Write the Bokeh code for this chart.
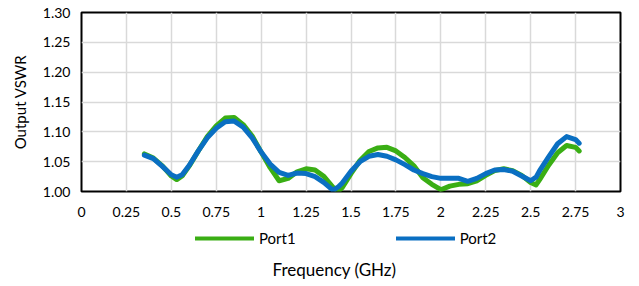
from bokeh.plotting import figure
from bokeh.layouts import column
from bokeh.models import Legend, LegendItem, FixedTicker, Range1d, NumeralTickFormatter, Label
from bokeh.embed import file_html
from bokeh.resources import INLINE

freq = [0.35, 0.40, 0.45, 0.50, 0.53, 0.56, 0.60, 0.65, 0.70, 0.75, 0.80, 0.85, 0.90, 0.95,
        1.00, 1.05, 1.10, 1.15, 1.20, 1.25, 1.30, 1.35, 1.40, 1.43, 1.45, 1.50, 1.55, 1.60,
        1.65, 1.70, 1.75, 1.80, 1.85, 1.90, 1.95, 2.00, 2.05, 2.10, 2.15, 2.20, 2.25, 2.30,
        2.35, 2.40, 2.45, 2.50, 2.53, 2.55, 2.60, 2.65, 2.70, 2.75, 2.77]

port1 = [1.063, 1.056, 1.043, 1.026, 1.020, 1.026, 1.043, 1.068, 1.092, 1.110, 1.123, 1.124,
         1.112, 1.093, 1.066, 1.040, 1.018, 1.022, 1.033, 1.038, 1.036, 1.025, 1.007, 1.001,
         1.006, 1.030, 1.052, 1.067, 1.073, 1.074, 1.068, 1.057, 1.043, 1.023, 1.012, 1.003,
         1.009, 1.012, 1.013, 1.018, 1.027, 1.035, 1.038, 1.035, 1.027, 1.015, 1.011, 1.020,
         1.044, 1.065, 1.077, 1.074, 1.068]

port2 = [1.061, 1.055, 1.042, 1.028, 1.024, 1.028, 1.044, 1.068, 1.090, 1.106, 1.117, 1.118,
         1.108, 1.090, 1.066, 1.046, 1.032, 1.027, 1.031, 1.030, 1.025, 1.015, 1.002, 1.008,
         1.014, 1.034, 1.050, 1.059, 1.062, 1.059, 1.053, 1.045, 1.036, 1.030, 1.025, 1.022,
         1.022, 1.022, 1.017, 1.022, 1.030, 1.036, 1.037, 1.034, 1.026, 1.018, 1.024, 1.035,
         1.058, 1.080, 1.092, 1.087, 1.081]

series_names = ["Port1", "Port2"]
x_ticks = [0, 0.25, 0.5, 0.75, 1, 1.25, 1.5, 1.75, 2, 2.25, 2.5, 2.75, 3]
x_tick_labels = ["0", "0.25", "0.5", "0.75", "1", "1.25", "1.5", "1.75", "2", "2.25", "2.5", "2.75", "3"]
y_ticks = [1.00, 1.05, 1.10, 1.15, 1.20, 1.25, 1.30]
x_title = "Frequency (GHz)"
y_title = "Output VSWR"

FONT = "Lato"
GREEN = "#3aae14"
BLUE = "#0a6fc2"
BL, BR, FW = 81, 11, 539

p = figure(frame_width=FW, frame_height=179, output_backend="svg", toolbar_location=None,
           x_range=Range1d(0, 3), y_range=Range1d(1.0, 1.3),
           min_border_left=BL, min_border_right=BR, min_border_top=12, min_border_bottom=36)

p.outline_line_color = "black"
p.outline_line_width = 2
p.background_fill_color = "white"
p.border_fill_color = "white"

for ax in (p.xaxis[0], p.yaxis[0]):
    ax.axis_line_color = None
    ax.major_tick_line_color = None
    ax.minor_tick_line_color = None
    ax.major_tick_out = 0
    ax.major_tick_in = 0
    ax.major_label_text_font = FONT
    ax.major_label_text_font_size = "14px"
    ax.major_label_text_color = "#000000"
    ax.axis_label_text_font = FONT
    ax.axis_label_text_font_size = "15px"
    ax.axis_label_text_font_style = "normal"
    ax.axis_label_text_color = "#000000"

p.xaxis.ticker = FixedTicker(ticks=x_ticks)
p.xaxis.major_label_overrides = {t: l for t, l in zip(x_ticks, x_tick_labels)}
p.xaxis.major_label_standoff = 15

p.yaxis.ticker = FixedTicker(ticks=y_ticks)
p.yaxis.formatter = NumeralTickFormatter(format="0.00")
p.yaxis.major_label_standoff = 11
p.yaxis.axis_label = y_title
p.yaxis.axis_label_standoff = 11

p.xgrid.grid_line_color = "#d9d9d9"
p.ygrid.grid_line_color = "#d9d9d9"
p.xgrid.grid_line_width = 1.5
p.ygrid.grid_line_width = 1.5

p.line(freq, port1, line_color=GREEN, line_width=5, line_cap="round", line_join="round")
p.line(freq, port2, line_color=BLUE, line_width=5, line_cap="round", line_join="round")

# Legend + x-axis title strip underneath the chart (frame aligned with the chart frame;
# its x range is in page pixels)
H2 = 59
p2 = figure(frame_width=FW, frame_height=H2, output_backend="svg", toolbar_location=None,
            x_range=Range1d(BL, BL + FW), y_range=Range1d(0, H2),
            x_axis_type=None, y_axis_type=None,
            min_border_left=BL, min_border_right=BR, min_border_top=0, min_border_bottom=0)
p2.outline_line_color = None
p2.xgrid.visible = False
p2.ygrid.visible = False
p2.border_fill_color = "white"
p2.background_fill_color = "white"

nan = float("nan")
g1 = p2.line(x=[nan], y=[nan], line_color=GREEN, line_width=4, line_cap="round")
g2 = p2.line(x=[nan], y=[nan], line_color=BLUE, line_width=4, line_cap="round")

legend = Legend(items=[LegendItem(label=series_names[0], renderers=[g1]),
                       LegendItem(label=series_names[1], renderers=[g2])],
                orientation="horizontal", location=(195 - BL, H2 - 20),
                glyph_width=59, glyph_height=14, label_standoff=5, spacing=100,
                padding=0, margin=0, border_line_color=None, background_fill_alpha=0,
                label_text_font=FONT, label_text_font_size="15px", label_text_color="#000000")
p2.add_layout(legend, "center")

p2.add_layout(Label(x=334, y=H2 - 42, text=x_title, text_align="center", text_baseline="middle",
                    text_font=FONT, text_font_size="17px", text_color="#000000"))

open("out.html", "w").write(file_html(column(p, p2, spacing=0), INLINE))
